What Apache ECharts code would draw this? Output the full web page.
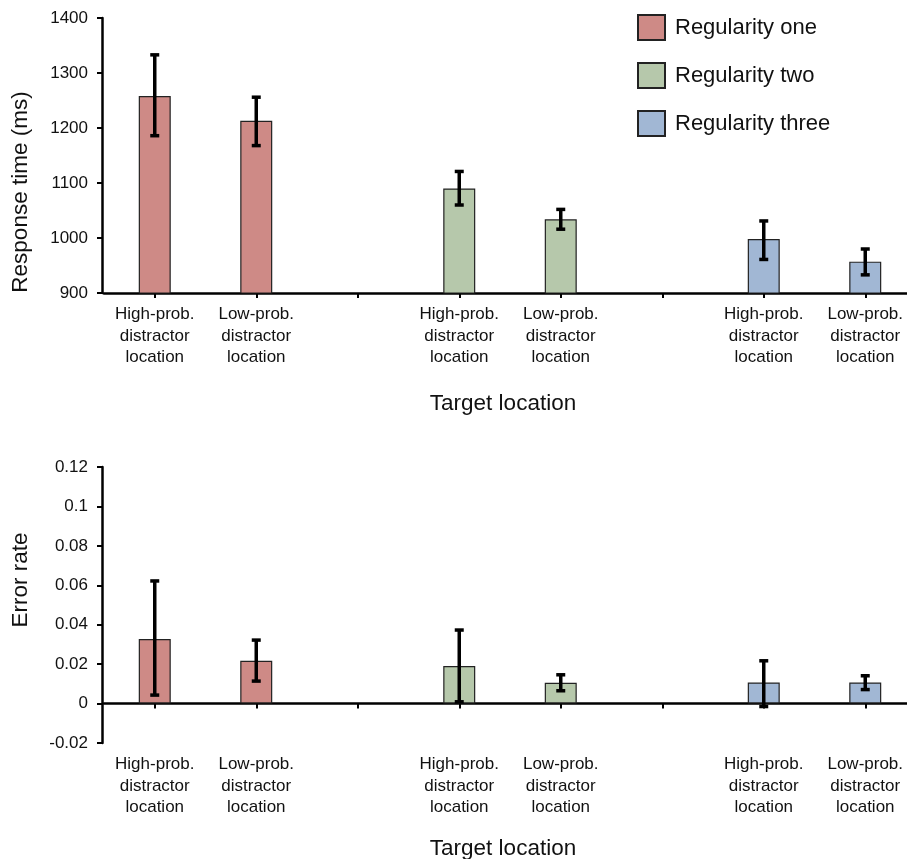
<!DOCTYPE html>
<html>
<head>
<meta charset="utf-8">
<script src="https://cdn.jsdelivr.net/npm/echarts@6/dist/echarts.min.js"></script>
<style>
html,body{margin:0;padding:0;background:#fff;}
#chart{width:907px;height:859px;}
</style>
</head>
<body>
<div id="chart"></div>
<script>
// ---- data ----
const categories = [
  'High-prob.\ndistractor\nlocation', 'Low-prob.\ndistractor\nlocation', '',
  'High-prob.\ndistractor\nlocation', 'Low-prob.\ndistractor\nlocation', '',
  'High-prob.\ndistractor\nlocation', 'Low-prob.\ndistractor\nlocation'
];
const regularities = ['Regularity one', 'Regularity two', 'Regularity three'];
const barSlot = [0, 1, 3, 4, 6, 7];   // category index of each bar
const barGroup = [0, 0, 1, 1, 2, 2];  // regularity of each bar

const rtMean = [1258, 1213, 1090, 1034, 998, 957];
const rtLow  = [1186, 1168, 1060, 1016, 961, 933];
const rtHigh = [1333, 1256, 1121, 1052, 1031, 980];

const erMean = [0.0327, 0.0217, 0.0190, 0.0105, 0.0107, 0.0107];
const erLow  = [0.0043, 0.0114, 0.0009, 0.0065, -0.0015, 0.0071];
const erHigh = [0.0622, 0.0322, 0.0373, 0.0146, 0.0217, 0.0141];

const rtTicks = {min: 900, max: 1400, interval: 100};
const erTicks = {min: -0.02, max: 0.12, interval: 0.02};

const rtTitle = 'Response time (ms)';
const erTitle = 'Error rate';
const xTitle = 'Target location';

// ---- styles ----
const colors = ['#CE8A86', '#B6C8AB', '#A1B7D4'];
const FONT = 'Liberation Sans, Arial, sans-serif';
const TXT = '#111';

function seriesValues(means, g) {
  const arr = categories.map(() => '-');
  means.forEach((v, i) => { if (barGroup[i] === g) arr[barSlot[i]] = v; });
  return arr;
}
function errData(lo, hi) {
  return lo.map((l, i) => [barSlot[i], l, hi[i]]);
}
function renderErr(params, api) {
  const x = api.value(0);
  const p1 = api.coord([x, api.value(1)]);
  const p2 = api.coord([x, api.value(2)]);
  const cw = 4.5;
  const style = {stroke: '#000', lineWidth: 3.5};
  return {
    type: 'group',
    children: [
      {type: 'line', shape: {x1: p1[0], y1: p1[1], x2: p2[0], y2: p2[1]}, style: style},
      {type: 'line', shape: {x1: p1[0] - cw, y1: p1[1], x2: p1[0] + cw, y2: p1[1]}, style: style},
      {type: 'line', shape: {x1: p2[0] - cw, y1: p2[1], x2: p2[0] + cw, y2: p2[1]}, style: style}
    ]
  };
}

const grids = [
  {left: 104, top: 18, width: 812, height: 275, containLabel: false, outerBoundsMode: 'none'},
  {left: 104, top: 467, width: 812, height: 276, containLabel: false, outerBoundsMode: 'none'}
];

const axisLineStyle = {show: true, lineStyle: {color: '#000', width: 2.5}};
const tickStyle = {show: true, length: 5, inside: false, lineStyle: {color: '#000', width: 2}};
const xLabel = {fontFamily: FONT, fontSize: 17, color: TXT, lineHeight: 21.5, margin: 11, interval: 0};
const yLabel = {fontFamily: FONT, fontSize: 17, color: TXT, margin: 14, formatter: v => String(v)};

const xAxes = [
  {type: 'category', gridIndex: 0, data: categories, boundaryGap: true,
   axisLine: axisLineStyle, axisTick: Object.assign({alignWithLabel: true}, tickStyle),
   axisLabel: xLabel},
  {type: 'category', gridIndex: 1, data: categories, boundaryGap: true,
   axisLine: Object.assign({onZero: true}, axisLineStyle),
   axisTick: Object.assign({alignWithLabel: true}, tickStyle),
   axisLabel: {show: false}},
  {type: 'category', gridIndex: 1, data: categories, boundaryGap: true, position: 'bottom',
   axisLine: {show: false, onZero: false}, axisTick: {show: false},
   axisLabel: xLabel}
];

const yAxes = [
  {type: 'value', gridIndex: 0, min: rtTicks.min, max: rtTicks.max, interval: rtTicks.interval, offset: 2,
   splitLine: {show: false}, axisLine: axisLineStyle, axisTick: tickStyle, axisLabel: yLabel},
  {type: 'value', gridIndex: 1, min: erTicks.min, max: erTicks.max, interval: erTicks.interval, offset: 2,
   splitLine: {show: false}, axisLine: axisLineStyle, axisTick: tickStyle, axisLabel: yLabel}
];

const series = [];
regularities.forEach((name, g) => {
  series.push({
    name: name, type: 'bar', xAxisIndex: 0, yAxisIndex: 0,
    data: seriesValues(rtMean, g), barWidth: 32, barGap: '-100%',
    itemStyle: {color: colors[g], borderColor: '#222', borderWidth: 1.2}
  });
  series.push({
    name: name, type: 'bar', xAxisIndex: 1, yAxisIndex: 1,
    data: seriesValues(erMean, g), barWidth: 32, barGap: '-100%',
    itemStyle: {color: colors[g], borderColor: '#222', borderWidth: 1.2}
  });
});
series.push({
  type: 'custom', xAxisIndex: 0, yAxisIndex: 0, z: 10,
  renderItem: renderErr, encode: {x: 0, y: [1, 2]}, data: errData(rtLow, rtHigh)
});
series.push({
  type: 'custom', xAxisIndex: 1, yAxisIndex: 1, z: 10,
  renderItem: renderErr, encode: {x: 0, y: [1, 2]}, data: errData(erLow, erHigh)
});

const titleFont = {fontFamily: FONT, fontSize: 22.5, fill: TXT};
const chart = echarts.init(document.getElementById('chart'), null, {renderer: 'canvas'});
chart.setOption({
  animation: false,
  backgroundColor: '#fff',
  grid: grids,
  xAxis: xAxes,
  yAxis: yAxes,
  graphic: [
    {type: 'text', x: 21, y: 192, rotation: Math.PI / 2,
     style: Object.assign({text: rtTitle, align: 'center', verticalAlign: 'middle'}, titleFont)},
    {type: 'text', x: 21, y: 580, rotation: Math.PI / 2,
     style: Object.assign({text: erTitle, align: 'center', verticalAlign: 'middle'}, titleFont)},
    {type: 'text', x: 503, y: 404,
     style: Object.assign({text: xTitle, align: 'center', verticalAlign: 'middle'}, titleFont)},
    {type: 'text', x: 503, y: 849,
     style: Object.assign({text: xTitle, align: 'center', verticalAlign: 'middle'}, titleFont)}
  ],
  legend: {
    data: regularities.map(n => ({name: n, icon: 'rect'})),
    orient: 'vertical', left: 637, top: 14, padding: 0,
    itemWidth: 27, itemHeight: 25, itemGap: 21,
    textStyle: {fontFamily: FONT, fontSize: 22, color: TXT, lineHeight: 25, padding: [0, 0, 0, 5]},
    selectedMode: false
  },
  series: series
});
</script>
</body>
</html>
